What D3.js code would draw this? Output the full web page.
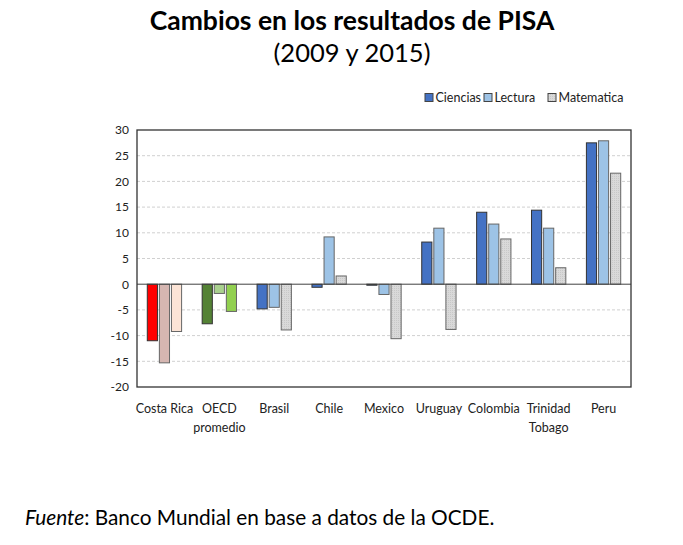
<!DOCTYPE html>
<html><head><meta charset="utf-8">
<script src="https://cdn.jsdelivr.net/npm/d3@7"></script>
<style>
body{margin:0;background:#fff;}
svg{display:block;}
</style></head>
<body>
<svg id="c" width="683" height="545"></svg>
<script>
const categories = ["Costa Rica","OECD|promedio","Brasil","Chile","Mexico","Uruguay","Colombia","Trinidad|Tobago","Peru"];
const seriesNames = ["Ciencias","Lectura","Matematica"];
const ciencias   = [-11.0, -7.7, -4.8, -0.6, -0.2,  8.2, 14.0, 14.4, 27.5];
const lectura    = [-15.3, -1.8, -4.5,  9.2, -2.0, 10.9, 11.7, 10.9, 27.9];
const matematica = [ -9.2, -5.3, -8.9,  1.6,-10.6, -8.8,  8.8,  3.2, 21.6];
const yTicks = [30,25,20,15,10,5,0,-5,-10,-15,-20];
const defaultColors = ["#4472C4","#9DC3E6","#D9D9D9"];
const specialColors = {
  "Costa Rica": ["#FF0000","#D5B6B1","#FCE4D6"],
  "OECD|promedio": ["#548235","#A9D18E","#92D050"]
};

const svg = d3.select("#c");
const font = "Lato,'Open Sans',sans-serif";

const defs = svg.append("defs");
const pat = defs.append("pattern").attr("id","dots").attr("width",2).attr("height",2).attr("patternUnits","userSpaceOnUse");
pat.append("rect").attr("width",2).attr("height",2).attr("fill","#D9D9D9");
pat.append("rect").attr("width",1).attr("height",1).attr("fill","#C8C8C8");

const L=137, R=631, T=130, B=387;
const x = d3.scaleBand().domain(categories).range([L,R]).paddingInner(0).paddingOuter(0);
const y = d3.scaleLinear().domain([-20,30]).range([B,T]);

svg.append("g").selectAll("line").data(yTicks.filter(d=>d!==30 && d!==-20 && d!==0)).join("line")
  .attr("x1",L).attr("x2",R).attr("y1",d=>y(d)).attr("y2",d=>y(d))
  .attr("stroke","#D0D0D0").attr("stroke-width",1).attr("stroke-dasharray","3,2");

const bw = x.bandwidth()*0.185, gap = x.bandwidth()*0.035;
const data = [];
categories.forEach((c,i)=>{
  [ciencias[i],lectura[i],matematica[i]].forEach((v,j)=>{
    data.push({c,j,v});
  });
});
svg.append("g").selectAll("rect").data(data).join("rect")
  .attr("x",d=>x(d.c)+x.bandwidth()/2 + (d.j-1)*(bw+gap) - bw/2)
  .attr("width",bw)
  .attr("y",d=>Math.min(y(d.v),y(0)))
  .attr("height",d=>Math.abs(y(d.v)-y(0)))
  .attr("fill",d=>{
    if(specialColors[d.c]) return specialColors[d.c][d.j];
    return d.j===2 ? "url(#dots)" : defaultColors[d.j];
  })
  .attr("stroke",d=>d.j===0?"#333":"#666")
  .attr("stroke-width",1);

svg.append("line").attr("x1",L).attr("x2",R).attr("y1",y(0)).attr("y2",y(0)).attr("stroke","#404040").attr("stroke-width",1);

svg.append("rect").attr("x",L).attr("y",T).attr("width",R-L).attr("height",B-T)
  .attr("fill","none").attr("stroke","#333").attr("stroke-width",1.3);

const yAxis = d3.axisLeft(y).tickValues(yTicks).tickSize(0).tickPadding(6).tickFormat(d=>d);
const ga = svg.append("g").attr("transform",`translate(${L},0)`).call(yAxis);
ga.select(".domain").remove();
ga.selectAll("text").attr("font-family",font).attr("font-size",12).attr("fill","#222").attr("dx",-2);

const xl = svg.append("g").selectAll("text").data(categories).join("text")
  .attr("x",d=>x(d)+x.bandwidth()/2).attr("y",413)
  .attr("text-anchor","middle").attr("font-family",font).attr("font-size",12.5).attr("fill","#222");
xl.each(function(d){
  const parts=d.split("|");
  const t=d3.select(this);
  parts.forEach((p,k)=>t.append("tspan").attr("x",x(d)+x.bandwidth()/2).attr("dy",k===0?0:19).text(p));
});

const legX=[425,484,548];
const lg = svg.append("g");
seriesNames.forEach((s,j)=>{
  lg.append("rect").attr("x",legX[j]).attr("y",93.5).attr("width",8).attr("height",8)
    .attr("fill",j===2?"url(#dots)":defaultColors[j]).attr("stroke","#444").attr("stroke-width",1);
  lg.append("text").attr("x",legX[j]+10.5).attr("y",102).attr("font-family",font).attr("font-size",12.5).attr("fill","#222").text(s);
});

svg.append("text").attr("x",352).attr("y",30).attr("text-anchor","middle")
  .attr("font-family",font).attr("font-weight","bold").attr("font-size",26.5).attr("fill","#000")
  .text("Cambios en los resultados de PISA");
svg.append("text").attr("x",352).attr("y",62).attr("text-anchor","middle")
  .attr("font-family",font).attr("font-size",25.5).attr("fill","#000")
  .text("(2009 y 2015)");

const src = svg.append("text").attr("x",25).attr("y",525).attr("font-family",font).attr("font-size",20.8).attr("fill","#000");
src.append("tspan").attr("font-style","italic").text("Fuente");
src.append("tspan").text(": Banco Mundial en base a datos de la OCDE.");
</script>
</body></html>
